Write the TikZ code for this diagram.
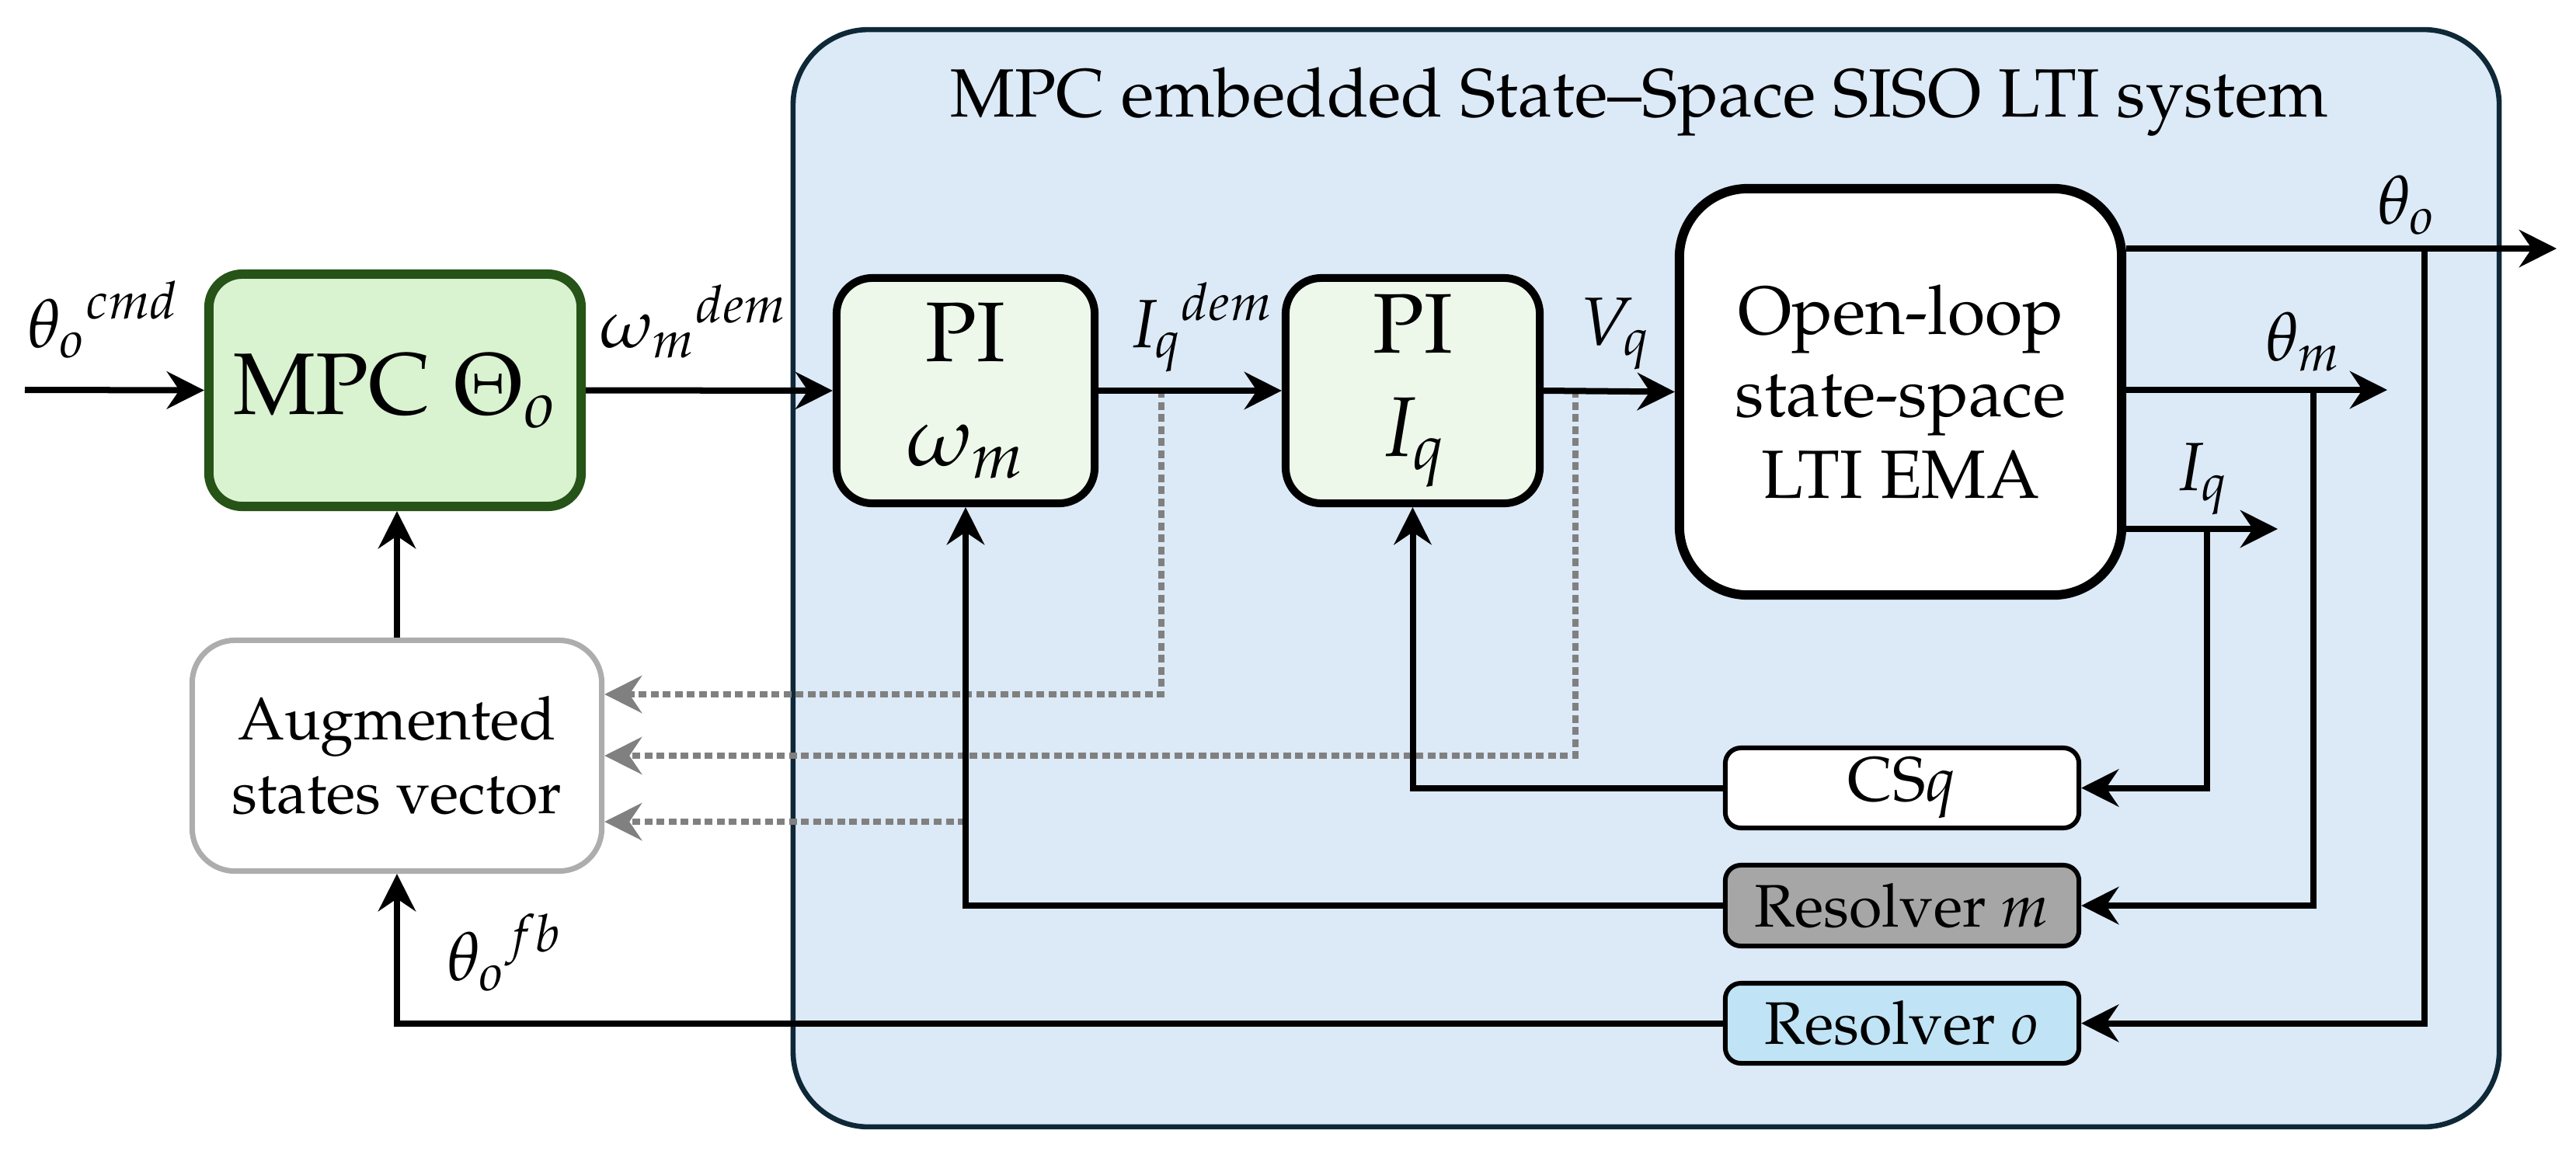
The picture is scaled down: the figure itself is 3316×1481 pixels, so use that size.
\documentclass[tikz,border=0pt]{standalone}
\usepackage[T1]{fontenc}
\usepackage{mathpazo}
\usetikzlibrary{arrows.meta}
\definecolor{sysfill}{HTML}{DCE9F6}
\definecolor{sysdraw}{HTML}{0E2838}
\definecolor{mpcfill}{HTML}{D9F2D0}
\definecolor{mpcdraw}{HTML}{265317}
\definecolor{pifill}{HTML}{EEF8EA}
\definecolor{resmfill}{HTML}{A6A6A6}
\definecolor{resofill}{HTML}{C0E4F5}
\definecolor{augdraw}{HTML}{ADADAD}
\definecolor{dotgray}{HTML}{808080}
\tikzset{
  arr/.style={-{Stealth[length=0.48cm,width=0.48cm,inset=0.16cm]}, line width=0.08cm},
  dotarr/.style={-{Stealth[length=0.48cm,width=0.48cm,inset=0.16cm]}, line width=0.075cm, dotgray, dash pattern=on 0.1cm off 0.055cm},
  blk/.style={draw, align=center, inner sep=0pt},
  lbl/.style={font=\fontsize{25}{30}\selectfont, inner sep=0pt, anchor=base west},
}
\begin{document}
\begin{tikzpicture}[x=0.01cm,y=-0.01cm]
\useasboundingbox (0,0) rectangle (3316,1481);

% system frame
\node[draw=sysdraw, fill=sysfill, line width=0.066cm, rounded corners=0.97cm,
      minimum width=21.95cm, minimum height=14.12cm, inner sep=0pt] (sys) at (2119,744.5) {};
\node[font=\fontsize{25}{30}\selectfont, inner sep=0pt, anchor=base] (title) at (2110,150)
  {MPC embedded State--Space SISO LTI system};

% blocks
\node[blk, draw=mpcdraw, fill=mpcfill, line width=0.12cm, rounded corners=0.43cm,
      minimum width=4.79cm, minimum height=2.99cm, font=\fontsize{32}{38}\selectfont]
      (mpc) at (508.5,502.5) {MPC $\Theta_o$};
\node[blk, fill=pifill, line width=0.1cm, rounded corners=0.46cm,
      minimum width=3.32cm, minimum height=2.9cm, font=\fontsize{31}{38}\selectfont]
      (piw) at (1243,503) {PI\\$\omega_m$};
\node[blk, fill=pifill, line width=0.1cm, rounded corners=0.46cm,
      minimum width=3.27cm, minimum height=2.9cm, font=\fontsize{31}{38}\selectfont]
      (piq) at (1818.5,503) {PI\\$I_q$};
\node[blk, fill=white, line width=0.12cm, rounded corners=0.88cm,
      minimum width=5.69cm, minimum height=5.23cm, font=\fontsize{25}{30}\selectfont]
      (ol) at (2446.5,504.5) {Open-loop\\state-space\\LTI EMA};
\node[blk, draw=augdraw, fill=white, line width=0.07cm, rounded corners=0.55cm,
      minimum width=5.27cm, minimum height=2.97cm, font=\fontsize{22}{27}\selectfont]
      (aug) at (511,973) {Augmented\\states vector};
\node[blk, fill=white, line width=0.06cm, rounded corners=0.2cm,
      minimum width=4.55cm, minimum height=1.03cm, font=\fontsize{23}{28}\selectfont]
      (csq) at (2448.5,1014.5) {CS$q$};
\node[blk, fill=resmfill, line width=0.06cm, rounded corners=0.2cm,
      minimum width=4.55cm, minimum height=1.04cm, font=\fontsize{22}{27}\selectfont]
      (resm) at (2448.5,1166) {Resolver $m$};
\node[blk, fill=resofill, line width=0.06cm, rounded corners=0.2cm,
      minimum width=4.55cm, minimum height=1.03cm, font=\fontsize{22}{27}\selectfont]
      (reso) at (2448.5,1317.5) {Resolver $o$};

% free ends and taps
\coordinate (in) at (32,502);
\coordinate (tho) at (3291,320);
\coordinate (thm) at (3073,502);
\coordinate (iqo) at (2932,681);
\coordinate (bo) at (3121,320);
\coordinate (bm) at (2978,502);
\coordinate (bq) at (2841,681);
\coordinate (t1) at (1495,502);
\coordinate (t1c) at (1495,894);
\coordinate (t2) at (2028,502);
\coordinate (t2c) at (2028,973);
\coordinate (t3) at (1243,1058);

% dotted state taps
\draw[dotarr] (t1) -- (t1c) -- (t1c -| aug.east);
\draw[dotarr] (t2) -- (t2c) -- (t2c -| aug.east);
\draw[dotarr] (t3) -- (t3 -| aug.east);

% forward path
\draw[arr] (in) -- (mpc.west);
\draw[arr] (mpc.east) -- (piw.west);
\draw[arr] (piw.east) -- (piq.west);
\draw[arr] (piq.east) -- (ol.west);
\draw[arr] (tho -| ol.east) -- (tho);
\draw[arr] (thm -| ol.east) -- (thm);
\draw[arr] (iqo -| ol.east) -- (iqo);

% feedback
\draw[arr] (bo) |- (reso.east);
\draw[arr] (bm) |- (resm.east);
\draw[arr] (bq) |- (csq.east);
\draw[arr] (csq.west) -| (piq.south);
\draw[arr] (resm.west) -| (piw.south);
\draw[arr] (reso.west) -| (aug.south);
\draw[arr] (aug.north) -- (aug.north |- mpc.south);

% labels
\node[lbl] (lcmd) at (35,447) {${\theta_o}^{cmd}$};
\node[lbl] (ldem) at (772,447) {${\omega_m}^{dem}$};
\node[lbl] (liq) at (1452,447) {${I_q}^{dem}$};
\node[lbl] (lvq) at (2034,444) {$V_q$};
\node[lbl] (ltho) at (3060,288) {$\theta_o$};
\node[lbl] (lthm) at (2916,464) {$\theta_m$};
\node[lbl] (liqo) at (2799,631) {$I_q$};
\node[lbl] (lfb) at (575,1262) {${\theta_o}^{fb}$};
\end{tikzpicture}
\end{document}
